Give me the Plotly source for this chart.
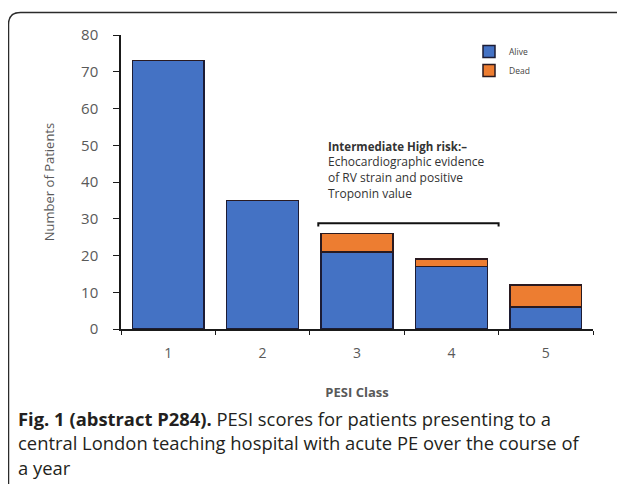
import plotly.graph_objects as go

# ---- data ----
pesi_classes = ["1", "2", "3", "4", "5"]
alive = [73, 35, 21, 17, 6]
dead = [0, 0, 5, 2, 6]
y_ticks = [0, 10, 20, 30, 40, 50, 60, 70, 80]

W, H = 625, 484
OFF = 8  # page body margin
L, R, T, B = 113, 40, 27, 163  # plot area margins (px)
PW, PH = W - L - R, H - T - B


def px2x(px):
    return (px - OFF - L) / PW


def py2y(py):
    return (H - B - (py - OFF)) / PH


fig = go.Figure()
fig.add_trace(go.Bar(
    x=pesi_classes, y=alive, name="Alive",
    marker=dict(color="#4472C4", line=dict(color="#1c1c35", width=1.5)),
))
fig.add_trace(go.Bar(
    x=pesi_classes, y=dead, name="Dead",
    marker=dict(color="#ED7D31", line=dict(color="#2a1a20", width=1.5)),
))

# outer rounded frame
x0, y0 = px2x(8.5), py2y(12.5)
x1, y1 = px2x(660), py2y(520)
rx, ry = 12 / PW, 12 / PH
frame = (f"M {x0},{y1} L {x0},{y0 - ry} Q {x0},{y0} {x0 + rx},{y0} "
         f"L {x1},{y0}")
fig.add_shape(type="path", xref="paper", yref="paper", path=frame,
              line=dict(color="#2b2b2b", width=1.5))

# bracket for intermediate-high risk group
bx0, bx1, by = 1.59, 3.5, 28.8
tick = 0.9
fig.add_shape(type="path", xref="x", yref="y",
              path=f"M {bx0},{by - tick} L {bx0},{by} L {bx1},{by} L {bx1},{by - tick}",
              line=dict(color="#111111", width=2))

# annotation text
note_lines = [
    "<b>Intermediate High risk:–</b>",
    "Echocardiographic evidence",
    "of RV strain and positive",
    "Troponin value",
]
note_sizes = [11.5, 12, 12, 12]
for i, ln in enumerate(note_lines):
    fig.add_annotation(xref="paper", yref="paper", x=px2x(326), y=py2y(146 + i * 15.8),
                       text=ln, showarrow=False, xanchor="left", yanchor="middle",
                       font=dict(family="Open Sans", size=note_sizes[i], color="#333333"))

# caption
cap = [
    "<b>Fig. 1 (abstract P284).</b> PESI scores for patients presenting to a",
    "central London teaching hospital with acute PE over the course of",
    "a year",
]
for i, ln in enumerate(cap):
    fig.add_annotation(xref="paper", yref="paper", x=px2x(16), y=py2y(418 + i * 24.5),
                       text=ln, showarrow=False, xanchor="left", yanchor="middle",
                       font=dict(family="Open Sans", size=18.4, color="#231f20"))

fig.update_layout(
    width=W, height=H,
    margin=dict(l=L, r=R, t=T, b=B, autoexpand=False),
    barmode="stack", bargap=0.24,
    paper_bgcolor="white", plot_bgcolor="white",
    font=dict(family="Open Sans", color="#595959"),
    showlegend=True,
    legend=dict(x=px2x(469), y=py2y(37), xanchor="left", yanchor="top",
                traceorder="normal", font=dict(size=8.5, color="#444444"),
                bgcolor="rgba(0,0,0,0)", itemwidth=30),
    xaxis=dict(
        type="category", showline=True, linecolor="#1a1a1a", linewidth=1.5,
        ticks="outside", tickson="boundaries", ticklen=4, tickcolor="#1a1a1a",
        tickfont=dict(size=14, color="#595959"), ticklabelstandoff=10,
        title=dict(text="<b>PESI Class</b>", font=dict(size=13, color="#595959"), standoff=27),
        showgrid=False,
    ),
    yaxis=dict(
        range=[0, 80], tickvals=y_ticks, showline=True, linecolor="#1a1a1a", linewidth=1.5,
        ticks="outside", ticklen=6, tickcolor="#1a1a1a",
        tickfont=dict(size=15, color="#595959"), ticklabelstandoff=12,
        title=dict(text="Number of Patients", font=dict(size=13, color="#595959"), standoff=24),
        showgrid=False, zeroline=False,
    ),
)

fig.write_html("out.html")
